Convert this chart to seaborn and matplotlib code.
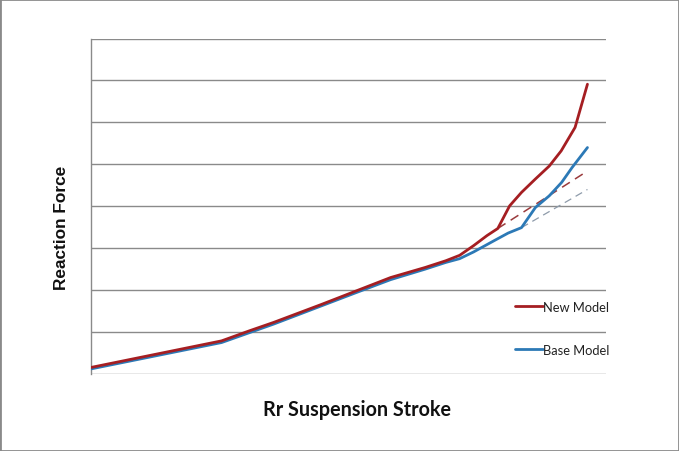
import matplotlib
matplotlib.use("Agg")
import matplotlib.pyplot as plt
import seaborn as sns
import pandas as pd
from matplotlib.patches import Rectangle

# ---- data ----
x_new = [0, 25.4, 30.8, 35.5, 44.8, 51.5, 58.2, 64.9, 68.9, 71.6, 74.3, 76.9, 79.0,
         81.3, 83.6, 86.3, 89.0, 91.3, 94.0, 96.4]
y_new = [0.155, 0.79, 1.03, 1.23, 1.66, 1.98, 2.30, 2.54, 2.70, 2.83, 3.06, 3.30, 3.47,
         4.01, 4.33, 4.65, 4.96, 5.32, 5.88, 6.91]

x_base = [0, 25.4, 35.5, 51.5, 58.2, 64.9, 68.9, 71.6, 74.3, 78.3, 81.0, 83.6, 86.3,
          89.0, 91.4, 93.4, 96.4]
y_base = [0.12, 0.75, 1.19, 1.94, 2.25, 2.50, 2.66, 2.75, 2.91, 3.18, 3.36, 3.49, 3.97,
          4.25, 4.57, 4.92, 5.40]

x_new_trend = [79.0, 96.4]
y_new_trend = [3.47, 4.84]
x_base_trend = [83.6, 96.4]
y_base_trend = [3.49, 4.40]

series_names = ["New Model", "Base Model"]
x_label = "Rr Suspension Stroke"
y_label = "Reaction Force"

# ---- styling ----
sns.set_theme(style="white")
plt.rcParams['font.family'] = ['Lato', 'DejaVu Sans']

red = "#A51E22"
blue = "#2C79B6"
grid_c = "#8A8A8A"

fig = plt.figure(figsize=(6.79, 4.52), dpi=100)
fig.patch.set_facecolor("white")
ax = fig.add_axes([90.7/679, 1-375/452, (606-90.7)/679, (375-39.5)/452])

df_new = pd.DataFrame({"x": x_new, "y": y_new})
df_base = pd.DataFrame({"x": x_base, "y": y_base})

sns.lineplot(data=df_base, x="x", y="y", ax=ax, color=blue, linewidth=2.0,
             label=series_names[1], sort=False, zorder=3)
sns.lineplot(data=df_new, x="x", y="y", ax=ax, color=red, linewidth=2.0,
             label=series_names[0], sort=False, zorder=4)
sns.lineplot(x=x_new_trend, y=y_new_trend, ax=ax, color="#9A3A3C", linewidth=1.1,
             linestyle=(0, (6, 4)), zorder=2)
sns.lineplot(x=x_base_trend, y=y_base_trend, ax=ax, color="#8E9BAA", linewidth=0.9,
             linestyle=(0, (6, 4)), zorder=2)

ax.set_xlim(0, 100)
ax.set_ylim(0, 8)
ax.set_yticks(range(0, 9))
ax.set_xticks([])
ax.yaxis.grid(True, color=grid_c, linewidth=1.0)
ax.set_axisbelow(True)
ax.tick_params(axis="y", length=0, labelleft=False)
for s in ["top", "right", "bottom"]:
    ax.spines[s].set_visible(False)
ax.spines["left"].set_color(grid_c)
ax.spines["left"].set_linewidth(1.0)

ax.set_xlabel("")
ax.set_ylabel("")
fig.text(357/679, 1-410/452, x_label, ha="center", va="center",
         fontsize=14.2, fontweight="bold", color="#111111",
         family=["Lato", "DejaVu Sans"])
fig.text(61/679, 1-228/452, y_label, ha="center", va="center", rotation=90,
         fontsize=12.4, fontweight="bold", color="#111111",
         family=["Liberation Sans", "DejaVu Sans"])

handles, labels = ax.get_legend_handles_labels()
order = [labels.index(n) for n in series_names]
leg = ax.legend([handles[i] for i in order], [labels[i] for i in order],
                loc="upper left", bbox_to_anchor=(515/679, 1-302/452),
                bbox_transform=fig.transFigure, frameon=False,
                fontsize=9.3, handlelength=2.15, handletextpad=0.05,
                labelspacing=2.4, borderpad=0, borderaxespad=0)
for t in leg.get_texts():
    t.set_color("#222222")

# thin grey border around the whole picture
fig.patches.append(Rectangle((0, 0), 1, 1, transform=fig.transFigure,
                             fill=False, edgecolor="#8A8A8A", linewidth=2.0))

fig.savefig("out.png", dpi=100, facecolor="white")
